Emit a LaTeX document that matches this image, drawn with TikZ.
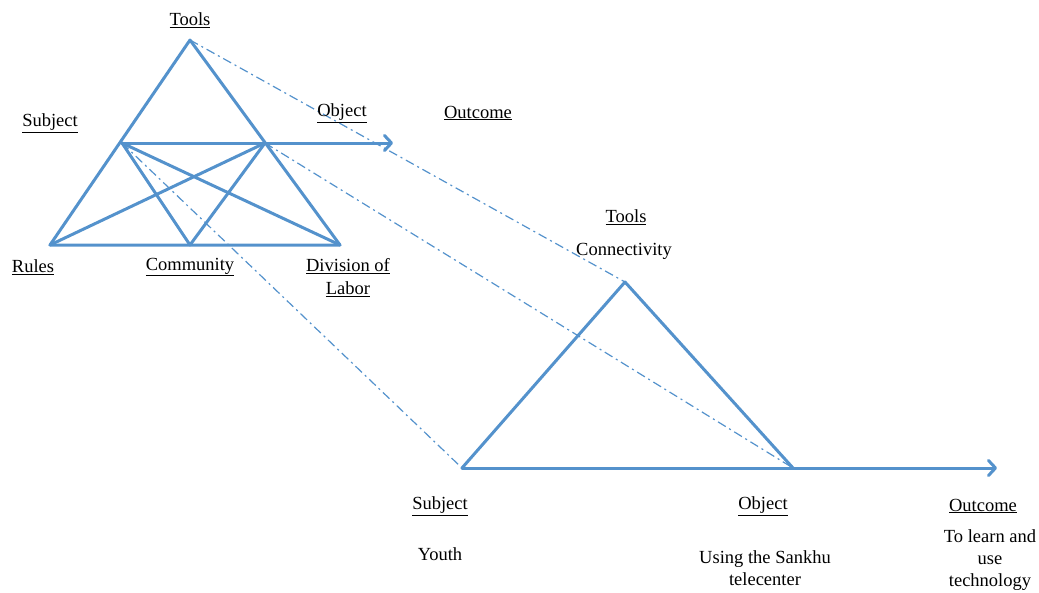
\documentclass[tikz,border=0pt]{standalone}
\usepackage{fontspec}
\setmainfont{Liberation Serif}
\usepackage{xcolor}
\usetikzlibrary{positioning,calc,arrows.meta}
\definecolor{linkblue}{RGB}{84,146,204}
\tikzset{
    side/.style={draw=linkblue, line width=3pt, line cap=round, line join=round},
    outflow/.style={side, -{Straight Barb[length=7pt,width=15pt,round]}},
    trace/.style={draw=linkblue, line width=1.2pt, dash pattern=on 9pt off 4pt on 2pt off 4pt},
    lbl/.style={font=\fontsize{18.5}{22}\selectfont, inner sep=0pt, align=center}
}
\newcommand{\ul}[1]{\underline{#1}}
\begin{document}
\begin{tikzpicture}[x=1pt,y=-1pt]
    \useasboundingbox (0,0) rectangle (1039,592);
    % Upper triangle
    \coordinate (toolsA) at (190,40);
    \coordinate (subjA) at (122,143);
    \coordinate (objA) at (265,143);
    \coordinate (rulesA) at (50,245);
    \coordinate (commA) at (190,245);
    \coordinate (divA) at (340,245);
    \coordinate (endA) at (393,143);
    % Lower triangle
    \coordinate (toolsB) at (625,282);
    \coordinate (subjB) at (462,468);
    \coordinate (objB) at (793,468);
    \coordinate (endB) at (997,468);

    % links between the two
    \draw[trace] (toolsA) -- (toolsB);
    \draw[trace] (objA) -- (objB);
    \draw[trace] (subjA) -- (subjB);

    \draw[side] (toolsA) -- (rulesA) -- (divA) -- cycle;
    \draw[side] (subjA) -- (commA) -- (objA);
    \draw[side] (subjA) -- (divA);
    \draw[side] (objA) -- (rulesA);
    \draw[outflow] (subjA) -- (endA);

    \draw[side] (subjB) -- (toolsB) -- (objB);
    \draw[outflow] (subjB) -- (endB);

    % labels, upper
    \node[lbl] (lToolsA) at (190,20) {\ul{Tools}};
    \node[lbl] (lSubjA) at (50,123) {\ul{Subject}};
    \node[lbl] (lObjA) at (342,113) {\ul{Object}};
    \node[lbl] (lOutA) at (478,113) {\ul{Outcome}};
    \node[lbl] (lRules) at (33,267) {\ul{Rules}};
    \node[lbl] (lComm) at (190,267) {\ul{Community}};
    \node[lbl, anchor=north] (lDiv) at (348,258) {\ul{Division of}\\[1pt]\ul{Labor}};

    % labels, lower
    \node[lbl] (lToolsB) at (626,217) {\ul{Tools}};
    \node[lbl] (lConn) at (624,251) {Connectivity};
    \node[lbl] (lSubjB) at (440,506) {\ul{Subject}};
    \node[lbl] (lYouth) at (440,554) {Youth};
    \node[lbl] (lObjB) at (763,506) {\ul{Object}};
    \node[lbl, anchor=north] (lUse) at (765,550) {Using the Sankhu\\telecenter};
    \node[lbl] (lOutB) at (983,506) {\ul{Outcome}};
    \node[lbl, anchor=north] (lLearn) at (990,529) {To learn and\\use\\technology};
\end{tikzpicture}
\end{document}
